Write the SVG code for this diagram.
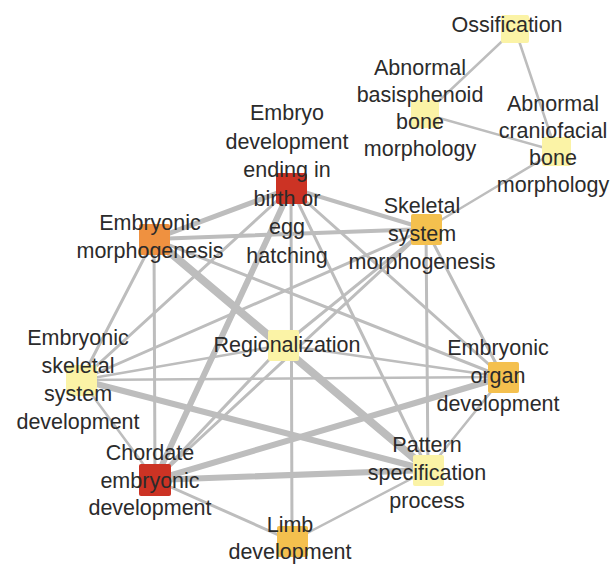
<svg xmlns="http://www.w3.org/2000/svg" width="612" height="564" viewBox="0 0 612 564">
<style>
.e{stroke:#bdbdbd;stroke-linecap:round;fill:none}
.n{stroke:none}
.y{fill:#fbf3a6}
.o{fill:#f4c04e}
.r{fill:#cc3324}
.m{fill:#ef9140}
text{font-family:"Liberation Sans",Arial,sans-serif;font-size:21.5px;fill:#2b2b2b;text-anchor:middle}
</style>
<rect width="612" height="564" fill="#ffffff"/>
<g id="edges">
<line class="e" x1="515" y1="29" x2="425" y2="114" stroke-width="2.5"/>
<line class="e" x1="515" y1="29" x2="556" y2="151" stroke-width="2.5"/>
<line class="e" x1="425" y1="114" x2="556" y2="151" stroke-width="2.5"/>
<line class="e" x1="556" y1="151" x2="426" y2="229" stroke-width="2.5"/>
<line class="e" x1="291" y1="188" x2="154" y2="239" stroke-width="5"/>
<line class="e" x1="291" y1="188" x2="426" y2="229" stroke-width="4"/>
<line class="e" x1="291" y1="188" x2="292" y2="541" stroke-width="3"/>
<line class="e" x1="291" y1="188" x2="155" y2="480" stroke-width="6"/>
<line class="e" x1="291" y1="188" x2="81" y2="380" stroke-width="3"/>
<line class="e" x1="291" y1="188" x2="503" y2="377" stroke-width="3"/>
<line class="e" x1="291" y1="188" x2="428" y2="470" stroke-width="3"/>
<line class="e" x1="154" y1="239" x2="426" y2="229" stroke-width="4"/>
<line class="e" x1="154" y1="239" x2="428" y2="470" stroke-width="8"/>
<line class="e" x1="154" y1="239" x2="155" y2="480" stroke-width="3"/>
<line class="e" x1="154" y1="239" x2="81" y2="380" stroke-width="3"/>
<line class="e" x1="154" y1="239" x2="503" y2="377" stroke-width="3"/>
<line class="e" x1="426" y1="229" x2="428" y2="470" stroke-width="3"/>
<line class="e" x1="426" y1="229" x2="503" y2="377" stroke-width="3"/>
<line class="e" x1="426" y1="229" x2="81" y2="380" stroke-width="3"/>
<line class="e" x1="426" y1="229" x2="155" y2="480" stroke-width="3"/>
<line class="e" x1="426" y1="229" x2="283" y2="345" stroke-width="3"/>
<line class="e" x1="283" y1="345" x2="503" y2="377" stroke-width="2.5"/>
<line class="e" x1="283" y1="345" x2="81" y2="380" stroke-width="2.5"/>
<line class="e" x1="283" y1="345" x2="155" y2="480" stroke-width="3"/>
<line class="e" x1="81" y1="380" x2="503" y2="377" stroke-width="2.5"/>
<line class="e" x1="81" y1="380" x2="428" y2="470" stroke-width="6"/>
<line class="e" x1="81" y1="380" x2="155" y2="480" stroke-width="2.5"/>
<line class="e" x1="155" y1="480" x2="503" y2="377" stroke-width="6"/>
<line class="e" x1="155" y1="480" x2="428" y2="470" stroke-width="6"/>
<line class="e" x1="155" y1="480" x2="292" y2="541" stroke-width="3"/>
<line class="e" x1="292" y1="541" x2="428" y2="470" stroke-width="2.5"/>
<line class="e" x1="503" y1="377" x2="428" y2="470" stroke-width="2.5"/>
</g>
<g id="ossification"><rect class="n y" x="501" y="15" width="28" height="28" rx="2"/><text x="507" y="32">Ossification</text></g>
<g id="basisphenoid"><rect class="n y" x="411" y="100" width="28" height="28" rx="2"/><text><tspan x="420" y="75">Abnormal</tspan><tspan x="420" dy="27">basisphenoid</tspan><tspan x="420" dy="27">bone</tspan><tspan x="420" dy="27">morphology</tspan></text></g>
<g id="craniofacial"><rect class="n y" x="542" y="137" width="29" height="29" rx="2"/><text><tspan x="553" y="111">Abnormal</tspan><tspan x="553" dy="27">craniofacial</tspan><tspan x="553" dy="27">bone</tspan><tspan x="553" dy="27">morphology</tspan></text></g>
<g id="embryo-development"><rect class="n r" x="276" y="173" width="31" height="31" rx="2"/><text><tspan x="287" y="120">Embryo</tspan><tspan x="287" dy="28.5">development</tspan><tspan x="287" dy="28.5">ending in</tspan><tspan x="287" dy="28.5">birth or</tspan><tspan x="287" dy="28.5">egg</tspan><tspan x="287" dy="28.5">hatching</tspan></text></g>
<g id="embryonic-morphogenesis"><rect class="n m" x="139" y="224" width="31" height="31" rx="2"/><text><tspan x="150" y="230">Embryonic</tspan><tspan x="150" dy="27.5">morphogenesis</tspan></text></g>
<g id="skeletal-system-morphogenesis"><rect class="n o" x="411" y="214" width="31" height="31" rx="2"/><text><tspan x="422" y="213">Skeletal</tspan><tspan x="422" dy="28">system</tspan><tspan x="422" dy="28">morphogenesis</tspan></text></g>
<g id="regionalization"><rect class="n y" x="268" y="330" width="31" height="31" rx="2"/><text x="287" y="352">Regionalization</text></g>
<g id="embryonic-skeletal-system-development"><rect class="n y" x="66" y="365" width="31" height="31" rx="2"/><text><tspan x="78" y="345">Embryonic</tspan><tspan x="78" dy="28">skeletal</tspan><tspan x="78" dy="28">system</tspan><tspan x="78" dy="28">development</tspan></text></g>
<g id="chordate-embryonic-development"><rect class="n r" x="139" y="464" width="32" height="32" rx="2"/><text><tspan x="150" y="460">Chordate</tspan><tspan x="150" dy="27.5">embryonic</tspan><tspan x="150" dy="27.5">development</tspan></text></g>
<g id="embryonic-organ-development"><rect class="n o" x="488" y="362" width="31" height="31" rx="2"/><text><tspan x="498" y="355">Embryonic</tspan><tspan x="498" dy="28">organ</tspan><tspan x="498" dy="28">development</tspan></text></g>
<g id="pattern-specification-process"><rect class="n y" x="413" y="455" width="31" height="31" rx="2"/><text><tspan x="427" y="452">Pattern</tspan><tspan x="427" dy="28">specification</tspan><tspan x="427" dy="28">process</tspan></text></g>
<g id="limb-development"><rect class="n o" x="277" y="526" width="31" height="31" rx="2"/><text><tspan x="290" y="532">Limb</tspan><tspan x="290" dy="26.5">development</tspan></text></g>
</svg>
